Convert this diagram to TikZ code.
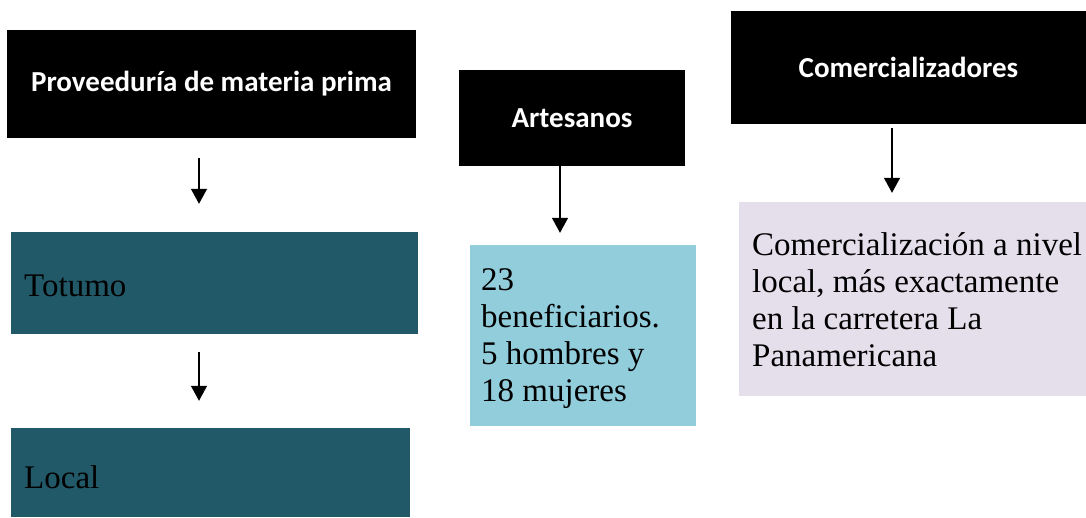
\documentclass[tikz,border=0pt]{standalone}
\usepackage{fontspec}
\setmainfont{Liberation Serif}
\newfontfamily\headfont{Carlito}
\usetikzlibrary{arrows.meta}
\definecolor{teal1}{HTML}{215968}
\definecolor{blue1}{HTML}{92CDDC}
\definecolor{lav1}{HTML}{E5DFEC}
\tikzset{
  x=1pt, y=-1pt,
  head/.style={fill=black, text=white, font=\headfont\bfseries\fontsize{29}{34}\selectfont, inner sep=0pt, align=center},
  body/.style={inner sep=0pt, align=left, font=\fontsize{33}{37}\selectfont, anchor=center},
  arr/.style={line width=1.3pt, -{Triangle[width=16pt,length=15pt]}},
}
\begin{document}
\begin{tikzpicture}
\useasboundingbox (0,0) rectangle (1086,517);
% headers
\node[head, minimum width=409pt, minimum height=108pt] (prov) at (211.5,84) {Proveeduría de materia prima};
\node[head, minimum width=226pt, minimum height=96pt] (art) at (572,118) {Artesanos};
\node[head, minimum width=355pt, minimum height=113pt] (com) at (908.5,67.5) {Comercializadores};
% boxes
\node[fill=teal1, minimum width=407pt, minimum height=102pt, inner sep=0pt] (totumo) at (214.5,283) {};
\node[fill=teal1, minimum width=399pt, minimum height=89pt, inner sep=0pt] (local) at (210.5,472.5) {};
\node[fill=blue1, minimum width=226pt, minimum height=181pt, inner sep=0pt] (benef) at (583,335.5) {};
\node[fill=lav1, minimum width=347pt, minimum height=194pt, inner sep=0pt] (lav) at (912.5,299) {};
% texts
\node[body, anchor=base west] (ttotumo) at (24,296) {Totumo};
\node[body, anchor=base west] (tlocal) at (24,488) {Local};
\node[body, anchor=north west] (tbenef) at (481,268) {23\\beneficiarios.\\5 hombres y\\18 mujeres};
\node[body, anchor=north west] (tlav) at (752,232) {Comercialización a nivel\\local, más exactamente\\en la carretera La\\Panamericana};
% arrows
\coordinate (a1) at (199,0);
\coordinate (a3) at (560,0);
\coordinate (a4) at (892,0);
\draw[arr, shorten <=20pt, shorten >=28pt] (prov.south -| a1) -- (totumo.north -| a1);
\draw[arr, shorten <=18pt, shorten >=27pt] (totumo.south -| a1) -- (local.north -| a1);
\draw[arr, shorten >=12pt] (art.south -| a3) -- (benef.north -| a3);
\draw[arr, shorten <=4pt, shorten >=9pt] (com.south -| a4) -- (lav.north -| a4);
\end{tikzpicture}
\end{document}
